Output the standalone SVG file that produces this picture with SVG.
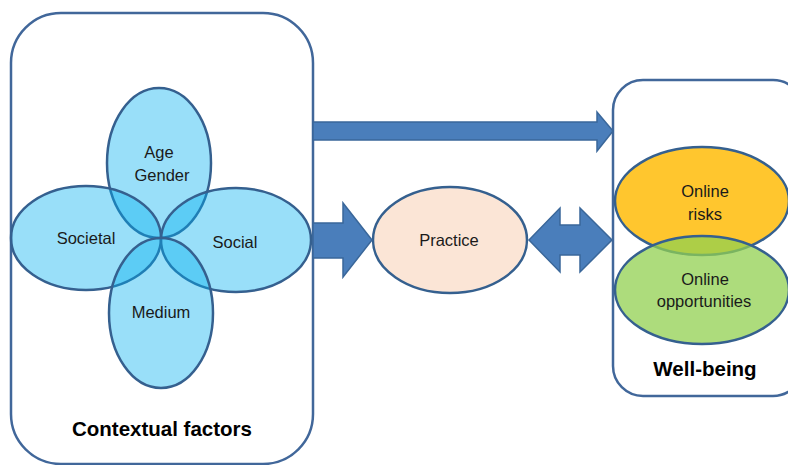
<svg xmlns="http://www.w3.org/2000/svg" width="788" height="465" viewBox="0 0 788 465">
  <style>
    .frame { fill: #ffffff; stroke: #41679a; stroke-width: 2.5; }
    .petal { fill: #00b0f0; fill-opacity: 0.4; stroke: #35608f; stroke-width: 2.5; }
    .arrow { fill: #4a7ebb; stroke: #3a679a; stroke-width: 1.5; stroke-linejoin: miter; }
    .oval { stroke: #35608f; stroke-width: 2.5; }
    .lbl { font-family: "Liberation Sans", Arial, sans-serif; font-size: 16.5px; fill: #1a1a1a; text-anchor: middle; dominant-baseline: central; }
    .title { font-family: "Liberation Sans", Arial, sans-serif; font-size: 20.5px; font-weight: bold; fill: #000000; text-anchor: middle; dominant-baseline: central; }
  </style>

  <rect width="788" height="465" fill="#ffffff"/>

  <!-- Contextual factors container with the four overlapping petals -->
  <g id="contextual-factors">
    <rect class="frame" x="11" y="13" width="302" height="451" rx="50" ry="50"/>
    <g id="petal-age-gender">
      <ellipse class="petal" cx="159" cy="163" rx="52" ry="75"/>
    </g>
    <g id="petal-societal">
      <ellipse class="petal" cx="86" cy="238" rx="75" ry="52"/>
    </g>
    <g id="petal-social">
      <ellipse class="petal" cx="236" cy="240" rx="75" ry="52"/>
    </g>
    <g id="petal-medium">
      <ellipse class="petal" cx="161" cy="313" rx="52" ry="75"/>
    </g>
    <text class="lbl" x="159" y="152">Age</text>
    <text class="lbl" x="162" y="175">Gender</text>
    <text class="lbl" x="86" y="238">Societal</text>
    <text class="lbl" x="235" y="242">Social</text>
    <text class="lbl" x="161" y="312">Medium</text>
    <text class="title" x="162" y="428">Contextual factors</text>
  </g>

  <!-- Practice -->
  <g id="practice">
    <ellipse class="oval" cx="450" cy="240" rx="77" ry="53" fill="#fbe5d6"/>
    <text class="lbl" x="449" y="240">Practice</text>
  </g>

  <!-- Well-being container -->
  <g id="well-being">
    <rect class="frame" x="613" y="80" width="190" height="316" rx="30" ry="30"/>
    <g id="online-risks">
      <ellipse class="oval" cx="702" cy="201" rx="87" ry="54" fill="#ffc62e"/>
      <text class="lbl" x="705" y="191">Online</text>
      <text class="lbl" x="705" y="214">risks</text>
    </g>
    <g id="online-opportunities">
      <ellipse class="oval" cx="702" cy="290" rx="87" ry="54" fill="#92d050" fill-opacity="0.75"/>
      <text class="lbl" x="705" y="279">Online</text>
      <text class="lbl" x="704" y="301">opportunities</text>
    </g>
    <text class="title" x="705" y="368">Well-being</text>
  </g>

  <!-- Connectors -->
  <g id="connectors">
    <!-- contextual factors to well-being -->
    <polygon class="arrow" points="313,122 597,122 597,112 613,131 597,151 597,140 313,140"/>
    <!-- contextual factors to practice -->
    <polygon class="arrow" points="313,223 343,223 343,203 372,240 343,277 343,258 313,258"/>
    <!-- practice and well-being, both ways -->
    <polygon class="arrow" points="529,240 560,208 560,225 580,225 580,208 612,240 580,272 580,255 560,255 560,272"/>
  </g>
</svg>
